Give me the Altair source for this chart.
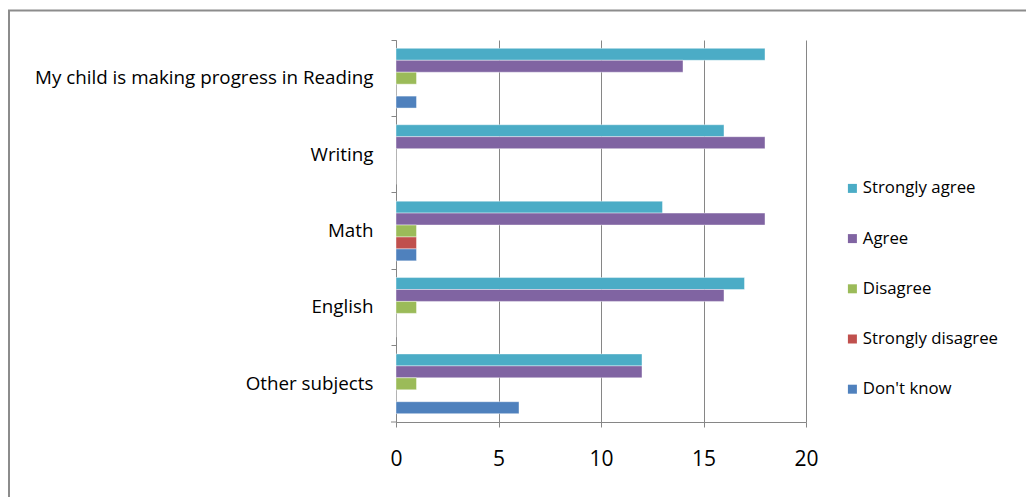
import altair as alt
import pandas as pd

# Survey questions (top to bottom) and response categories (legend order)
questions = [
    "My child is making progress in Reading",
    "Writing",
    "Math",
    "English",
    "Other subjects",
]
responses = ["Strongly agree", "Agree", "Disagree", "Strongly disagree", "Don't know"]
colors = ["#4BACC6", "#8064A2", "#9BBB59", "#C0504D", "#4F81BD"]

# Number of responses per question, one list per response category
strongly_agree = [18, 16, 13, 17, 12]
agree = [14, 18, 18, 16, 12]
disagree = [1, 0, 1, 1, 1]
strongly_disagree = [0, 0, 1, 0, 0]
dont_know = [1, 0, 1, 0, 6]

x_ticks = [0, 5, 10, 15, 20]

series = [strongly_agree, agree, disagree, strongly_disagree, dont_know]
rows = []
for resp, vals in zip(responses, series):
    for q, v in zip(questions, vals):
        rows.append({"question": q, "response": resp, "count": v})
df = pd.DataFrame(rows)

W, H = 410, 382
LEFT, TOP = 396, 40
FONT = "Open Sans"
GRAY = "#868686"

bars = alt.Chart(df).mark_bar(
    stroke="white", strokeWidth=0.6, strokeOpacity=0.7
).encode(
    x=alt.X(
        "count:Q",
        scale=alt.Scale(domain=[0, 20], nice=False),
        axis=alt.Axis(
            values=x_ticks,
            title=None,
            grid=True,
            gridColor=GRAY,
            gridWidth=1,
            domainColor=GRAY,
            tickColor=GRAY,
            tickSize=5,
            labelFlush=False,
            labelFont=FONT,
            labelFontSize=21,
            labelColor="#000000",
            labelPadding=21,
        ),
    ),
    y=alt.Y(
        "question:N",
        sort=questions,
        scale=alt.Scale(paddingInner=0, paddingOuter=0),
        axis=alt.Axis(
            title=None,
            bandPosition=0,
            domainColor=GRAY,
            tickColor=GRAY,
            tickSize=5,
            labelFont=FONT,
            labelFontSize=18.8,
            labelColor="#000000",
            labelPadding=18,
            labelLimit=0,
        ),
    ),
    yOffset=alt.YOffset(
        "response:N",
        sort=responses,
        scale=alt.Scale(paddingInner=0, paddingOuter=0.7),
    ),
    color=alt.Color(
        "response:N",
        sort=responses,
        scale=alt.Scale(domain=responses, range=colors),
        legend=alt.Legend(
            title=None,
            orient="none",
            legendX=448,
            legendY=140,
            symbolType="square",
            symbolSize=81,
            symbolStrokeWidth=0,
            labelFont=FONT,
            labelFontSize=16.8,
            labelColor="#000000",
            labelOffset=2,
            rowPadding=32.2,
        ),
    ),
)

# Outer frame (top and left edges) and the closing tick of the category axis
frame_top = alt.Chart().mark_rule(color="#8c8c8c", strokeWidth=2).encode(
    x=alt.value(8 - LEFT), x2=alt.value(1026 - LEFT), y=alt.value(10.5 - TOP)
)
frame_left = alt.Chart().mark_rule(color="#8c8c8c", strokeWidth=2).encode(
    x=alt.value(9 - LEFT), y=alt.value(10 - TOP), y2=alt.value(497 - TOP)
)
end_tick = alt.Chart().mark_rule(color=GRAY, strokeWidth=1).encode(
    x=alt.value(-5), x2=alt.value(0), y=alt.value(H)
)

chart = alt.layer(bars, frame_top, frame_left, end_tick).properties(
    width=W,
    height=H,
    autosize=alt.AutoSizeParams(type="none"),
    padding={"left": LEFT, "top": TOP, "right": 1026 - LEFT - W, "bottom": 497 - TOP - H},
    background="white",
).configure_view(stroke=None)

chart.save("out.html", embed_options={"renderer": "svg", "actions": False})
